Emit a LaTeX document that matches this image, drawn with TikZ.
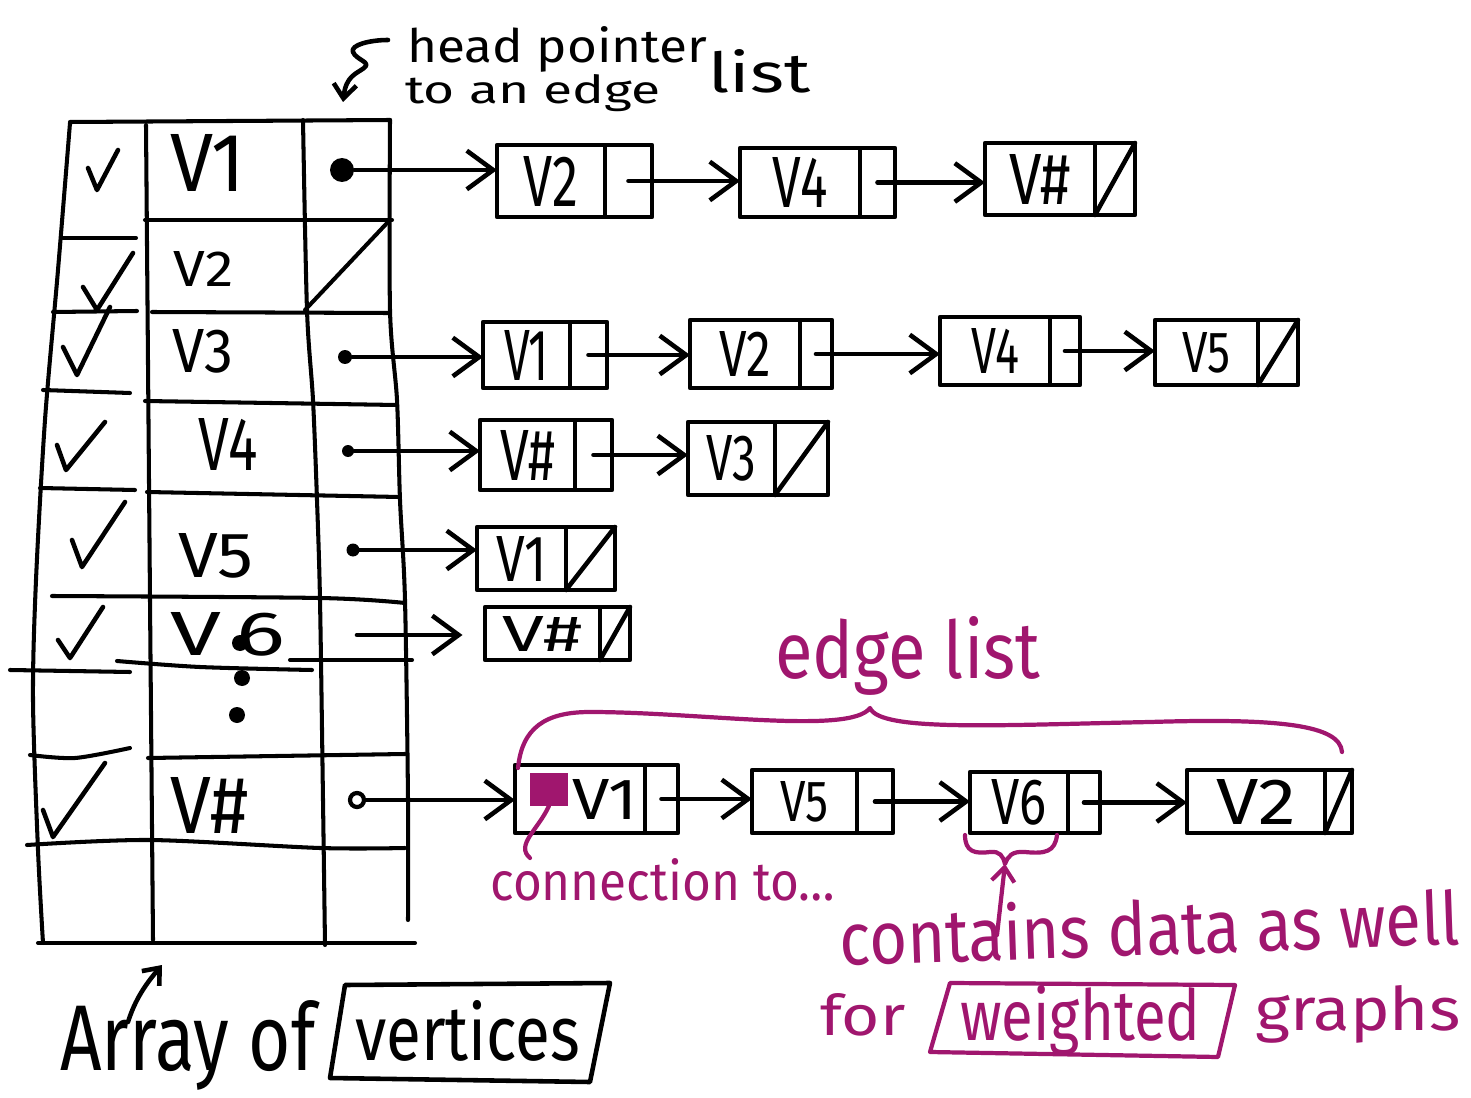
\documentclass[tikz,border=0pt]{standalone}
\usepackage{fontspec}
\usepackage{graphicx}
\setmainfont{Fira Sans}
\usetikzlibrary{arrows.meta}
\definecolor{mag}{RGB}{160,22,110}
\newlength\pxu
\setlength\pxu{0.02cm}
\newcommand\tx[3]{\resizebox{#1\pxu}{#2\pxu}{#3}}
\newcommand\lcell[7]{%
  \node[cellbox, minimum width={(#3-#2)*0.02cm}, minimum height={(#6-#5)*0.02cm}] (#1) at ({(#2+#3)/2},{(#5+#6)/2}) {#7};
  \node[cellbox, minimum width={(#4-#3)*0.02cm}, minimum height={(#6-#5)*0.02cm}] (#1n) at ({(#3+#4)/2},{(#5+#6)/2}) {};}
\newcommand\nilcell[1]{\draw[ink] (#1n.south west) -- (#1n.north east);}
\begin{document}
\begin{tikzpicture}[x=0.02cm,y=-0.02cm,line cap=round,line join=round,
  ink/.style={line width=2.6pt,black},
  tbl/.style={line width=2.3pt,black},
  pink/.style={line width=2.4pt,mag},
  cellbox/.style={draw,line width=2.6pt,rectangle,inner sep=0pt,outer sep=0pt},
  arr/.style={ink,-{Straight Barb[length=15pt,width=22pt]}},
  sarr/.style={ink,-{Straight Barb[length=8pt,width=13pt]}},
  parr/.style={pink,-{Straight Barb[length=8pt,width=13pt]}},
  txt/.style={inner sep=0pt,anchor=base west},
  pdot/.style={circle,fill,inner sep=0pt},
]
\useasboundingbox (0,0) rectangle (1471,1098);

% ---------- table of vertices ----------
\draw[tbl] plot[smooth] coordinates {(70,123) (58,270) (45,420) (36,580) (33,700) (38,850) (43,943)};
\draw[tbl] (146,125) -- (150,600) -- (153,940);
\draw[tbl] plot[smooth] coordinates {(303,120) (307,310) (313,400) (317,500) (320,600) (323,800) (325,945)};
\draw[tbl] plot[smooth] coordinates {(390,120) (390,310) (397,400) (400,500) (405,600) (408,800) (408,920)};
\draw[tbl] (70,122) -- (390,120);
\draw[tbl] (145,220) -- (392,220);
\draw[tbl] (63,238) -- (136,238);
\draw[tbl] (152,312) -- (388,313);
\draw[tbl] (53,312) -- (137,311);
\draw[tbl] (145,401) -- (397,405);
\draw[tbl] (43,390) -- (130,393);
\draw[tbl] (147,492) -- (400,497);
\draw[tbl] (40,488) -- (135,490);
\draw[tbl] plot[smooth] coordinates {(52,596) (320,598) (405,603)};
\draw[tbl] (10,670) -- (130,672);
\draw[tbl] plot[smooth] coordinates {(117,661) (200,667) (312,670)};
\draw[tbl] (290,660) -- (412,660);
\draw[tbl] plot[smooth] coordinates {(30,755) (75,758) (130,748)};
\draw[tbl] (148,758) -- (405,754);
\draw[tbl] plot[smooth] coordinates {(27,845) (150,840) (320,848) (405,848)};
\draw[tbl] (38,943) -- (415,943);
\draw[tbl] (305,310) -- (388,222);

% check marks
\draw[ink] (88,168) -- (97,190) -- (118,150);
\draw[ink] (83,287) -- (97,310) -- (133,253);
\draw[ink] (63,347) -- (77,375) -- (110,307);
\draw[ink] (57,445) -- (66,470) -- (105,422);
\draw[ink] (72,540) -- (82,567) -- (125,502);
\draw[ink] (58,640) -- (70,658) -- (103,607);
\draw[ink] (43,810) -- (53,837) -- (105,763);

% vertex names
\node[txt] (v1) at (170,192) {\tx{75}{57}{V1}};
\node[txt] (v2) at (173,287) {\tx{60}{35}{V2}};
\node[txt] (v3) at (172,373) {\tx{61}{43}{V3}};
\node[txt] (v4) at (198,470) {\tx{59}{52}{V4}};
\node[txt] (v5) at (178,577) {\tx{75}{44}{V5}};
\node[txt] (v6) at (170,655) {\tx{115}{43}{V\,6}};
\node[txt] (vn) at (170,833) {\tx{78}{56}{V\#}};
\node[pdot,minimum size=0.32cm] (e1) at (240,643) {};
\node[pdot,minimum size=0.32cm] (e2) at (242,678) {};
\node[pdot,minimum size=0.32cm] (e3) at (237,715) {};

% head pointers
\node[pdot,minimum size=0.48cm] (p1) at (342,170) {};
\node[pdot,minimum size=0.28cm] (p3) at (345,357) {};
\node[pdot,minimum size=0.24cm] (p4) at (348,451) {};
\node[pdot,minimum size=0.26cm] (p5) at (353,550) {};
\coordinate (p6) at (357,635);
\node[circle,draw,line width=2.4pt,inner sep=0pt,minimum size=0.28cm] (pn) at (357,800) {};

% ---------- edge lists ----------
\lcell{a1}{497}{605}{652}{145}{217}{\tx{55}{50}{V2}}
\lcell{a2}{740}{860}{895}{148}{217}{\tx{55}{50}{V4}}
\lcell{a3}{985}{1095}{1135}{143}{215}{\tx{62}{50}{V\#}}
\nilcell{a3}
\lcell{c1}{483}{570}{607}{322}{388}{\tx{45}{50}{V1}}
\lcell{c2}{690}{800}{832}{320}{388}{\tx{52}{45}{V2}}
\lcell{c3}{940}{1050}{1080}{317}{385}{\tx{48}{45}{V4}}
\lcell{c4}{1155}{1258}{1298}{320}{385}{\tx{48}{40}{V5}}
\nilcell{c4}
\lcell{d1}{480}{575}{612}{420}{490}{\tx{55}{50}{V\#}}
\lcell{d2}{688}{775}{828}{422}{495}{\tx{50}{45}{V3}}
\nilcell{d2}
\lcell{f1}{477}{566}{615}{527}{590}{\tx{50}{45}{V1}}
\nilcell{f1}
\lcell{h1}{485}{600}{630}{607}{660}{\tx{80}{35}{V\#}}
\nilcell{h1}
\lcell{g1}{515}{645}{678}{765}{833}{\hspace*{1cm}\tx{65}{40}{V1}}
\lcell{g2}{752}{857}{893}{770}{833}{\tx{48}{40}{V5}}
\lcell{g3}{970}{1068}{1100}{772}{833}{\tx{55}{45}{V6}}
\lcell{g4}{1187}{1325}{1352}{770}{833}{\tx{80}{45}{V2}}
\nilcell{g4}

\draw[arr] (p1) -- (p1 -| a1.west);
\draw[arr] (a1n.center) -- (a1n.center -| a2.west);
\draw[arr] (a2n.center) -- (a2n.center -| a3.west);
\draw[arr] (p3) -- (p3 -| c1.west);
\draw[arr] (c1n.center) -- (c1n.center -| c2.west);
\draw[arr] (c2n.center) -- (c2n.center -| c3.west);
\draw[arr] (c3n.center) -- (c3n.center -| c4.west);
\draw[arr] (p4) -- (p4 -| d1.west);
\draw[arr] (d1n.center) -- (d1n.center -| d2.west);
\draw[arr] (p5) -- (p5 -| f1.west);
\draw[arr,shorten >=0.45cm] (p6) -- (p6 -| h1.west);
\draw[arr] (pn) -- (pn -| g1.west);
\draw[arr] (g1n.center) -- (g1n.center -| g2.west);
\draw[arr] (g2n.center) -- (g2n.center -| g3.west);
\draw[arr] (g3n.center) -- (g3n.center -| g4.west);

% ---------- black notes ----------
\node[txt] (hp) at (407,63) {\tx{300}{36}{head pointer}};
\node[txt] (tae) at (405,104) {\tx{255}{29}{to an edge}};
\node[txt] (lst) at (708,93) {\tx{102}{43}{list}};
\coordinate (hpa) at (388,40);
\coordinate (hpb) at (343,102);
\draw[sarr] (hpa) .. controls (370,40) and (350,45) .. (353,52) .. controls (356,60) and (372,62) .. (364,68) .. controls (356,74) and (346,76) .. (hpb);

\node[txt] (ao) at (60,1070) {\tx{255}{70}{Array of}};
\node[txt] (vt) at (355,1060) {\tx{225}{60}{vertices}};
\draw[ink] (345,985) -- (610,983) -- (590,1082) -- (330,1078) -- cycle;
\coordinate (atail) at (128,1022);
\coordinate (atip) at (162,965);
\draw[sarr] (atail) .. controls (135,1000) and (145,985) .. (atip);

% ---------- purple notes ----------
\node[fill=mag,inner sep=0pt,minimum width=0.76cm,minimum height=0.66cm] (sq) at (549,789) {};
\coordinate (cend) at (530,858);
\draw[pink] (sq.south) .. controls (538,830) and (515,845) .. (cend);
\node[txt,text=mag] (el) at (775,678) {\tx{265}{62}{edge list}};
\draw[pink] (518,768) .. controls (522,728) and (545,712) .. (590,712)
  .. controls (700,712) and (850,735) .. (870,708)
  .. controls (880,732) and (1000,725) .. (1150,722)
  .. controls (1280,718) and (1340,725) .. (1342,752);
\node[txt,text=mag] (ct) at (490,900) {\tx{345}{42}{connection to\dots}};
\coordinate (cusp) at (1005,864);
\draw[pink] (965,835) .. controls (965,852) and (975,854) .. (990,852) .. controls (1000,851) and (1003,856) .. (cusp)
  .. controls (1008,856) and (1012,851) .. (1025,852) .. controls (1045,854) and (1055,852) .. (1057,835);
\coordinate (ctail) at (997,935);
\draw[parr] (ctail) -- (cusp);
\node[txt,text=mag,rotate=2] (cd) at (840,966) {\tx{620}{58}{contains data as well}};
\node[txt,text=mag] (fr) at (820,1035) {\tx{85}{42}{for}};
\node[txt,text=mag] (wt) at (960,1040) {\tx{240}{55}{weighted}};
\draw[pink] (950,983) -- (1235,985) -- (1218,1057) -- (930,1052) -- cycle;
\node[txt,text=mag] (gr) at (1255,1030) {\tx{205}{45}{graphs}};
\end{tikzpicture}
\end{document}
